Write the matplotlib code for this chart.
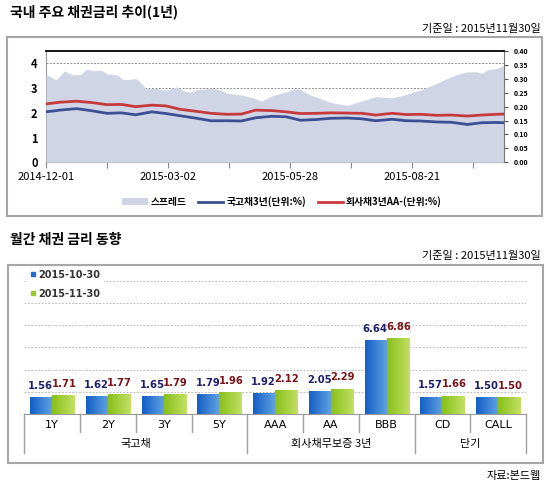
import numpy as np
import matplotlib
matplotlib.use('Agg')
import matplotlib.pyplot as plt
from matplotlib.patches import Rectangle, Patch
from matplotlib.lines import Line2D
from matplotlib.colors import LinearSegmentedColormap
from matplotlib.ticker import FormatStrFormatter
import matplotlib.transforms as mtrans

plt.rcParams['font.family'] = ['Noto Sans CJK KR', 'DejaVu Sans']

# ---- 1년 추이 데이터 (거래일 인덱스 기준) ----
line_days = [0, 7, 15, 22, 30, 37, 44, 52, 59, 66, 74, 81, 89, 96, 103, 111,
             118, 125, 133, 140, 148, 155, 162, 170, 177, 184, 192, 199, 207, 214, 221, 225]
gov3y = [2.04, 2.11, 2.17, 2.09, 1.98, 2.00, 1.92, 2.04, 1.97, 1.88, 1.78, 1.68,
         1.68, 1.67, 1.80, 1.86, 1.84, 1.70, 1.73, 1.78, 1.79, 1.76, 1.68, 1.74,
         1.68, 1.67, 1.63, 1.62, 1.53, 1.60, 1.61, 1.60]
corp3y = [2.36, 2.43, 2.47, 2.42, 2.33, 2.34, 2.25, 2.31, 2.28, 2.14, 2.06, 1.98,
          1.94, 1.95, 2.11, 2.09, 2.04, 1.97, 1.98, 2.00, 1.99, 1.98, 1.91, 1.98,
          1.93, 1.94, 1.90, 1.91, 1.87, 1.91, 1.94, 1.95]

spread_days = [0, 2, 5, 9, 13, 17, 20, 23, 27, 30, 35, 38, 41, 44, 46, 49, 54, 59,
               64, 68, 71, 74, 81, 85, 89, 96, 101, 106, 111, 118, 122, 125, 129,
               133, 140, 142, 148, 155, 162, 170, 177, 184, 192, 197, 202, 207,
               212, 214, 217, 222, 225]
spread = [0.316, 0.308, 0.296, 0.328, 0.314, 0.316, 0.335, 0.329, 0.332, 0.317,
          0.314, 0.297, 0.298, 0.301, 0.290, 0.266, 0.266, 0.259, 0.271, 0.256,
          0.252, 0.260, 0.266, 0.262, 0.248, 0.242, 0.233, 0.220, 0.239, 0.253,
          0.264, 0.262, 0.244, 0.234, 0.215, 0.212, 0.205, 0.220, 0.236, 0.232,
          0.244, 0.260, 0.284, 0.301, 0.316, 0.325, 0.325, 0.320, 0.332, 0.338, 0.349]

tick_days = [0, 30, 60, 90, 120, 150, 180, 210]
tick_text = ['2014-12-01', '', '2015-03-02', '', '2015-05-28', '', '2015-08-21', '']

# ---- 월간 채권 금리 데이터 ----
categories = ['1Y', '2Y', '3Y', '5Y', 'AAA', 'AA', 'BBB', 'CD', 'CALL']
rate_oct = [1.56, 1.62, 1.65, 1.79, 1.92, 2.05, 6.64, 1.57, 1.50]
rate_nov = [1.71, 1.77, 1.79, 1.96, 2.12, 2.29, 6.86, 1.66, 1.50]
group_names = ['국고채', '회사채무보증 3년', '단기']
group_bounds = [(0, 4), (4, 7), (7, 9)]

W, H = 546, 486
fig = plt.figure(figsize=(W / 100, H / 100), dpi=100)


def frac(x0, y0, x1, y1):
    # 픽셀(위에서부터) -> figure 좌표
    return [x0 / W, 1 - y1 / H, (x1 - x0) / W, (y1 - y0) / H]


def ftext(x, y, s, **kw):
    fig.text(x / W, 1 - y / H, s, **kw)


# ---- 상자 / 제목 ----
for (bx0, by0, bx1, by1) in [(7, 37, 542, 216), (8, 265, 543, 463)]:
    fig.add_artist(Rectangle((bx0 / W, 1 - by1 / H), (bx1 - bx0) / W, (by1 - by0) / H,
                             transform=fig.transFigure, fill=False,
                             edgecolor='#a6a6a6', lw=1.5))

ftext(10, 12, '국내 주요 채권금리 추이(1년)', fontsize=10, fontweight='bold', va='center')
ftext(541, 29, '기준일 : 2015년11월30일', fontsize=8, ha='right', va='center')
ftext(10, 240, '월간 채권 금리 동향', fontsize=10, fontweight='bold', va='center')
ftext(541, 256, '기준일 : 2015년11월30일', fontsize=8, ha='right', va='center')
ftext(541, 476, '자료:본드웹', fontsize=8, ha='right', va='center')

# ---- 상단 차트 ----
rect = frac(46, 51, 504, 162.3)
ax_g = fig.add_axes(rect)
ax_s = fig.add_axes(rect)
ax_l = fig.add_axes(rect)

for a in (ax_g, ax_s, ax_l):
    a.set_xlim(0, 225)
ax_g.set_ylim(0, 4.5)
ax_l.set_ylim(0, 4.5)
ax_s.set_ylim(0, 0.4)

ax_g.set_yticks([0, 1, 2, 3, 4])
ax_g.tick_params(axis='y', length=0, pad=6, labelsize=8)
for lab in ax_g.get_yticklabels():
    lab.set_fontweight('bold')
ax_g.grid(axis='y', linestyle=(0, (2, 1.5)), color='#8c8c8c', lw=0.7)
ax_g.set_xticks(tick_days)
ax_g.set_xticklabels(tick_text, fontsize=8)
ax_g.tick_params(axis='x', direction='out', length=4, color='#888888', pad=3)
for sp in ['top', 'right']:
    ax_g.spines[sp].set_visible(False)
ax_g.spines['left'].set_color('#9a9a9a')
ax_g.spines['bottom'].set_color('#777777')

ax_s.patch.set_visible(False)
ax_s.fill_between(spread_days, spread, 0, color='#d0d5e6', lw=0)
ax_s.yaxis.tick_right()
ax_s.set_yticks(np.arange(0, 0.401, 0.05))
ax_s.yaxis.set_major_formatter(FormatStrFormatter('%.2f'))
ax_s.tick_params(axis='y', labelsize=5, length=3, pad=4, color='#555555')
for lab in ax_s.get_yticklabels():
    lab.set_fontweight('bold')
ax_s.set_xticks([])
for sp in ['top', 'left', 'bottom']:
    ax_s.spines[sp].set_visible(False)
ax_s.spines['right'].set_color('#777777')

ax_l.patch.set_visible(False)
ax_l.plot(line_days, gov3y, color='#3b4f92', lw=2)
ax_l.plot(line_days, corp3y, color='#c63a3c', lw=2)
ax_l.set_xticks([])
ax_l.set_yticks([])
for sp in ['left', 'right', 'bottom']:
    ax_l.spines[sp].set_visible(False)
ax_l.spines['top'].set_color('black')
ax_l.spines['top'].set_linewidth(1.3)

handles = [Patch(facecolor='#d0d5e6', edgecolor='none'),
           Line2D([], [], color='#3b4f92', lw=2),
           Line2D([], [], color='#c63a3c', lw=2)]
fig.legend(handles, ['스프레드', '국고채3년(단위:%)', '회사채3년AA-(단위:%)'],
           loc='center', bbox_to_anchor=(282 / W, 1 - 202 / H), ncol=3, frameon=False,
           handlelength=2.6, handletextpad=0.3, columnspacing=1.2,
           prop={'size': 7, 'weight': 'bold'})

# ---- 하단 차트 ----
axb = fig.add_axes(frac(24.3, 269.7, 526, 414))
x = np.arange(len(categories))
bw = 0.395
bars_o = axb.bar(x - bw / 2, rate_oct, bw, color='none', lw=0, zorder=3)
bars_n = axb.bar(x + bw / 2, rate_nov, bw, color='none', lw=0, zorder=3)

cm_blue = LinearSegmentedColormap.from_list('b', ['#145ec6', '#62a4e4'])
cm_green = LinearSegmentedColormap.from_list('g', ['#88c01a', '#c2e064'])
grad = np.linspace(0, 1, 64).reshape(1, -1)
for bars, cm in [(bars_o, cm_blue), (bars_n, cm_green)]:
    for p in bars:
        x0, y0 = p.get_xy()
        im = axb.imshow(grad, extent=[x0, x0 + p.get_width(), y0, y0 + p.get_height()],
                        aspect='auto', cmap=cm, zorder=3)
        im.set_clip_path(p)

for i in range(len(categories)):
    axb.annotate(f'{rate_oct[i]:.2f}', (x[i] - bw / 2, rate_oct[i]), xytext=(-0.5, 8),
                 textcoords='offset points', ha='center', va='center',
                 fontsize=7.2, fontweight='bold', color='#1c1f6b', family='DejaVu Sans')
    axb.annotate(f'{rate_nov[i]:.2f}', (x[i] + bw / 2, rate_nov[i]), xytext=(0.5, 8),
                 textcoords='offset points', ha='center', va='center',
                 fontsize=7.2, fontweight='bold', color='#7a1418', family='DejaVu Sans')

axb.set_xlim(-0.5, len(categories) - 0.5)
axb.set_ylim(0, 13)
axb.set_yticks(range(2, 13, 2))
axb.tick_params(axis='y', length=0, labelleft=False)
axb.grid(axis='y', linestyle=(0, (2, 1.5)), color='#bdbdbd', lw=0.7)
axb.set_axisbelow(True)
axb.set_xticks(x)
axb.set_xticklabels(categories, fontsize=8, family='DejaVu Sans')
axb.tick_params(axis='x', length=0, pad=4)
for sp in ['top', 'right', 'left']:
    axb.spines[sp].set_visible(False)
axb.spines['bottom'].set_color('#9a9a9a')

trans = mtrans.blended_transform_factory(axb.transData, axb.transAxes)
short_y = -18 / 144.3
long_y = -39 / 144.3
starts = [b[0] for b in group_bounds] + [len(categories)]
for k in range(len(categories) + 1):
    yb = long_y if k in starts else short_y
    axb.plot([k - 0.5, k - 0.5], [0, yb], transform=trans, color='#a0a0a0',
             lw=1, clip_on=False)
for name, (g0, g1) in zip(group_names, group_bounds):
    axb.text((g0 + g1 - 1) / 2, -30.3 / 144.3, name, transform=trans,
             ha='center', va='center', fontsize=8)

leg = axb.legend([Line2D([], [], ls='none', marker='s', ms=3, color='#1f6fd0'),
                  Line2D([], [], ls='none', marker='s', ms=3, color='#9ccc2a')],
                 ['2015-10-30', '2015-11-30'], loc='upper left',
                 bbox_to_anchor=(0.0, 1.04), frameon=True, framealpha=1,
                 facecolor='white', edgecolor='none', handlelength=0.6,
                 handletextpad=0.2, labelspacing=0.9, borderaxespad=0.2,
                 prop={'size': 7, 'weight': 'bold', 'family': 'DejaVu Sans'})
for t in leg.get_texts():
    t.set_color('#333333')

fig.savefig('out.png', dpi=100)
